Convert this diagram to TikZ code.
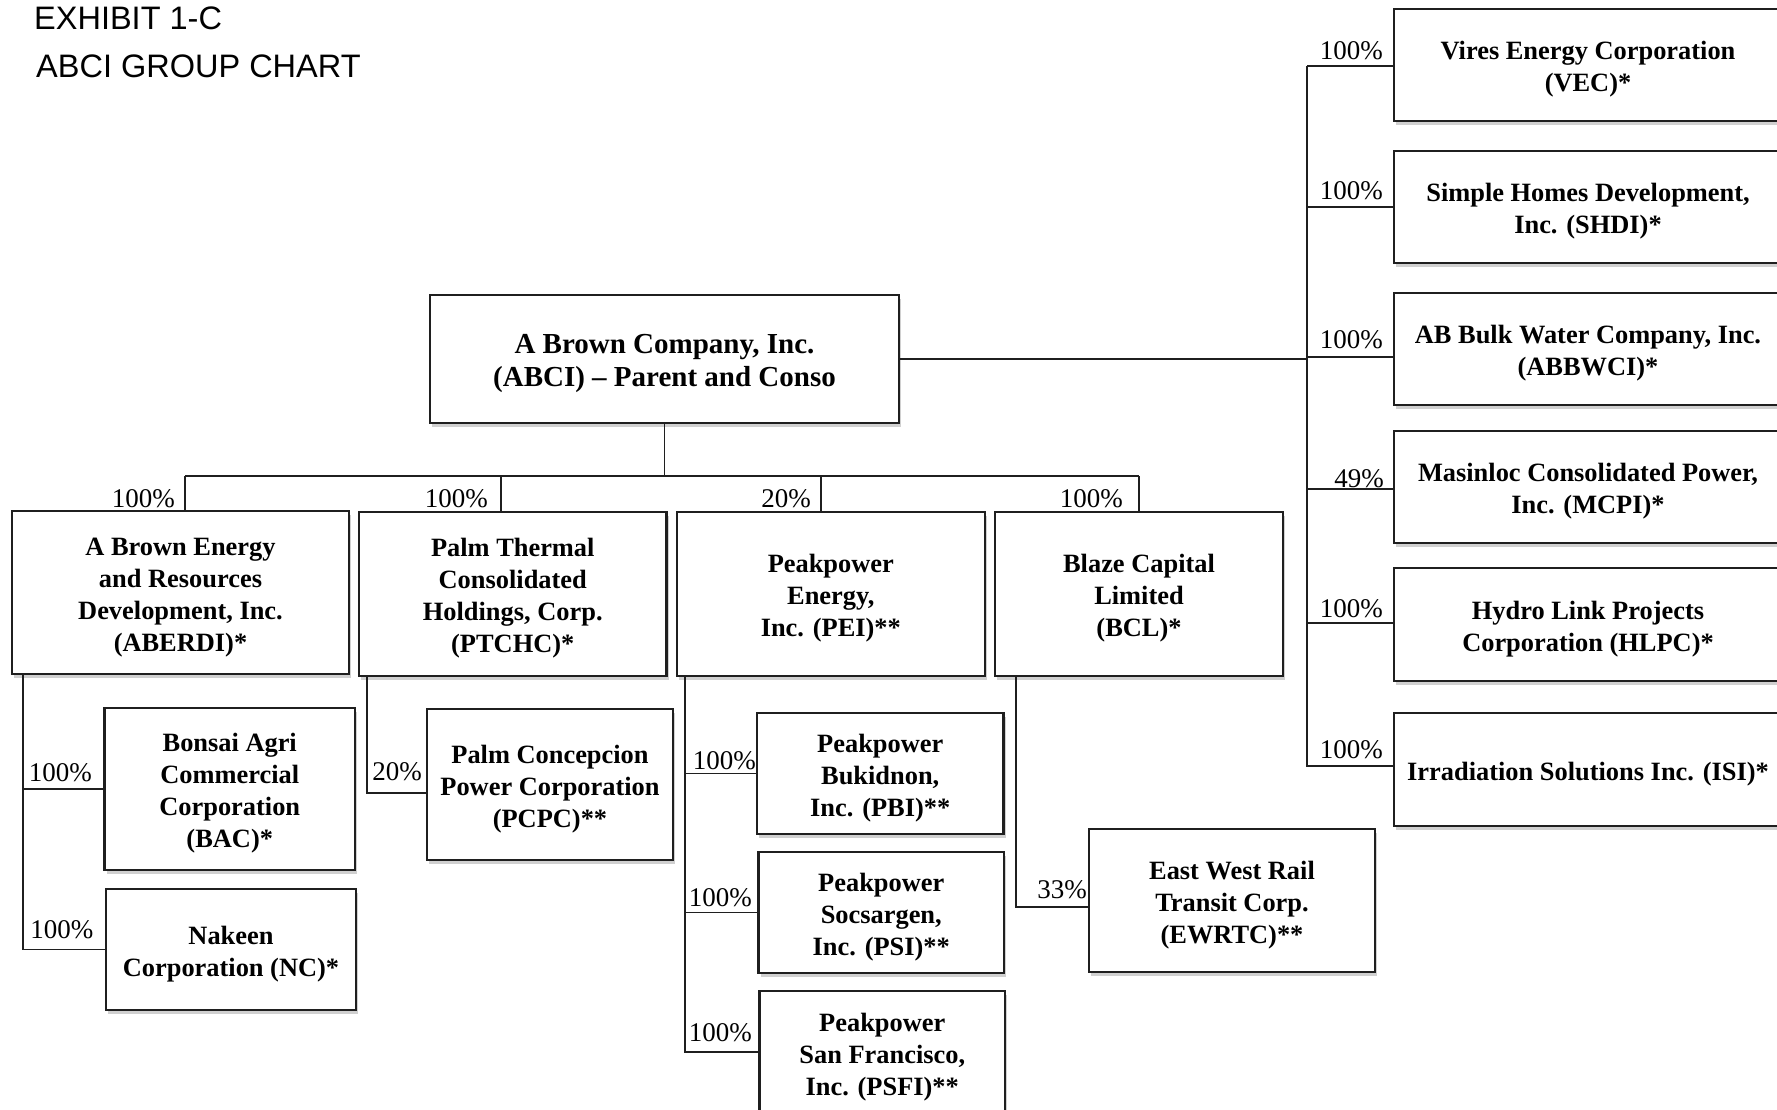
\documentclass[tikz,border=0pt]{standalone}
\usepackage{fontspec}
\setmainfont{Liberation Serif}
\newfontfamily\titlefont{Liberation Sans}
\usetikzlibrary{shadows,calc}
\newcommand\tfix{\rule{0pt}{27pt}}
\newcommand\tfixb{\rule{0pt}{29pt}}
\tikzset{
  co/.style={draw=black!88, line width=2.2pt, fill=white, inner sep=0pt, align=center,
    font=\fontsize{26.4}{32}\selectfont\bfseries,
    drop shadow={shadow xshift=2pt, shadow yshift=-3.5pt, opacity=0.3, fill=black!60}},
  big/.style={font=\fontsize{29}{33}\selectfont\bfseries},
  link/.style={draw=black!88, line width=1.8pt},
  pct/.style={inner sep=0pt, font=\fontsize{27}{27}\selectfont, anchor=base east},
  ttl/.style={inner sep=0pt, font=\titlefont\fontsize{32.5}{32.5}\selectfont, anchor=base west},
}
\begin{document}
\begin{tikzpicture}[x=1pt,y=-1pt]
\useasboundingbox (0,0) rectangle (1777,1109);
\clip (0,0) rectangle (1777,1109);
\fill[white] (0,0) rectangle (1777,1109);

% titles
\node[ttl] (t1) at (34,29) {EXHIBIT 1-C};
\node[ttl] (t2) at (36,77) {ABCI GROUP CHART};

% boxes
\node[co, big, minimum width=469pt, minimum height=128pt] (abci) at (664.5,359) {\tfixb A Brown Company, Inc.\\(ABCI) – Parent and Conso};
\node[co, minimum width=337pt, minimum height=163pt] (aberdi) at (180.5,592.5) {\tfix A Brown Energy\\and Resources\\Development, Inc.\\(ABERDI)*};
\node[co, minimum width=307.5pt, minimum height=164pt] (ptchc) at (512.75,594) {\tfix Palm Thermal\\Consolidated\\Holdings, Corp.\\(PTCHC)*};
\node[co, minimum width=307.6pt, minimum height=164pt] (pei) at (830.8,594) {\tfix Peakpower\\Energy,\\Inc. (PEI)**};
\node[co, minimum width=288pt, minimum height=164pt] (bcl) at (1139,594) {\tfix Blaze Capital\\Limited\\(BCL)*};
\node[co, minimum width=250.5pt, minimum height=162pt] (bac) at (229.75,789) {\tfix Bonsai Agri\\Commercial\\Corporation\\(BAC)*};
\node[co, minimum width=250pt, minimum height=121pt] (nc) at (231,949.5) {\tfix Nakeen\\Corporation (NC)*};
\node[co, minimum width=246pt, minimum height=151pt] (pcpc) at (550,784.5) {\tfix Palm Concepcion\\Power Corporation\\(PCPC)**};
\node[co, minimum width=246.5pt, minimum height=121pt] (pbi) at (880.25,773.5) {\tfix Peakpower\\Bukidnon,\\Inc. (PBI)**};
\node[co, minimum width=245.5pt, minimum height=121pt] (psi) at (881.25,912.5) {\tfix Peakpower\\Socsargen,\\Inc. (PSI)**};
\node[co, minimum width=245.5pt, minimum height=124pt] (psfi) at (882.25,1053) {\tfix Peakpower\\San Francisco,\\Inc. (PSFI)**};
\node[co, minimum width=286pt, minimum height=143pt] (ewrtc) at (1232,900.5) {\tfix East West Rail\\Transit Corp.\\(EWRTC)**};
\node[co, minimum width=388pt, minimum height=112pt] (vec) at (1588,65) {\tfix Vires Energy Corporation\\(VEC)*};
\node[co, minimum width=388pt, minimum height=112pt] (shdi) at (1588,207) {\tfix Simple Homes Development,\\Inc. (SHDI)*};
\node[co, minimum width=388pt, minimum height=112pt] (abbwci) at (1588,349) {\tfix AB Bulk Water Company, Inc.\\(ABBWCI)*};
\node[co, minimum width=388pt, minimum height=112pt] (mcpi) at (1588,487) {\tfix Masinloc Consolidated Power,\\Inc. (MCPI)*};
\node[co, minimum width=388pt, minimum height=113pt] (hlpc) at (1588,624.5) {\tfix Hydro Link Projects\\Corporation (HLPC)*};
\node[co, minimum width=388pt, minimum height=113pt] (isi) at (1588,769.5) {\tfix Irradiation Solutions Inc. (ISI)*};

% bus under parent
\coordinate (b1) at (185,476);
\coordinate (b2) at (501,476);
\coordinate (b3) at (821,476);
\coordinate (b4) at (1139,476);
\draw[link] (abci.south) -- (abci.south |- b1);
\draw[link] (b1) -- (b4);
\draw[link] (b1) -- (b1 |- aberdi.north);
\draw[link] (b2) -- (b2 |- ptchc.north);
\draw[link] (b3) -- (b3 |- pei.north);
\draw[link] (b4) -- (b4 |- bcl.north);

% ABERDI subsidiaries
\coordinate (s1) at (23,789);
\draw[link] (s1 |- aberdi.south) |- (nc.west);
\draw[link] (s1) -- (s1 -| bac.west);

% PTCHC subsidiary
\coordinate (s2) at (367,793);
\draw[link] (s2 |- ptchc.south) -- (s2) -- (s2 -| pcpc.west);

% PEI subsidiaries
\coordinate (s3) at (685,1052);
\draw[link] (s3 |- pei.south) -- (s3) -- (s3 -| psfi.west);
\draw[link] (s3 |- pbi.west) -- (pbi.west);
\draw[link] (s3 |- psi.west) -- (psi.west);

% BCL subsidiary
\coordinate (s4) at (1016,907);
\draw[link] (s4 |- bcl.south) -- (s4) -- (s4 -| ewrtc.west);

% right trunk
\coordinate (tr) at (1307,766);
\coordinate (r1) at (1307,66);
\coordinate (r2) at (1307,207);
\coordinate (r3) at (1307,357);
\coordinate (r4) at (1307,489);
\coordinate (r5) at (1307,623);
\draw[link] (abci.east) -- (abci.east -| tr);
\draw[link] (r1) -- (tr) -- (tr -| isi.west);
\draw[link] (r1) -- (r1 -| vec.west);
\draw[link] (r2) -- (r2 -| shdi.west);
\draw[link] (r3) -- (r3 -| abbwci.west);
\draw[link] (r4) -- (r4 -| mcpi.west);
\draw[link] (r5) -- (r5 -| hlpc.west);

% percentages
\node[pct] (p1) at (175,507) {100\%};
\node[pct] (p2) at (488,507) {100\%};
\node[pct] (p3) at (811,507) {20\%};
\node[pct] (p4) at (1123,507) {100\%};
\node[pct] (p5) at (92,781) {100\%};
\node[pct] (p6) at (93.5,938) {100\%};
\node[pct] (p7) at (422,780) {20\%};
\node[pct] (p8) at (756,769) {100\%};
\node[pct] (p9) at (752,906) {100\%};
\node[pct] (p10) at (752,1041) {100\%};
\node[pct] (p11) at (1087,898) {33\%};
\node[pct] (q1) at (1383,59) {100\%};
\node[pct] (q2) at (1383,199) {100\%};
\node[pct] (q3) at (1383,348) {100\%};
\node[pct] (q4) at (1384,487) {49\%};
\node[pct] (q5) at (1383,617) {100\%};
\node[pct] (q6) at (1383,758) {100\%};
\end{tikzpicture}
\end{document}
